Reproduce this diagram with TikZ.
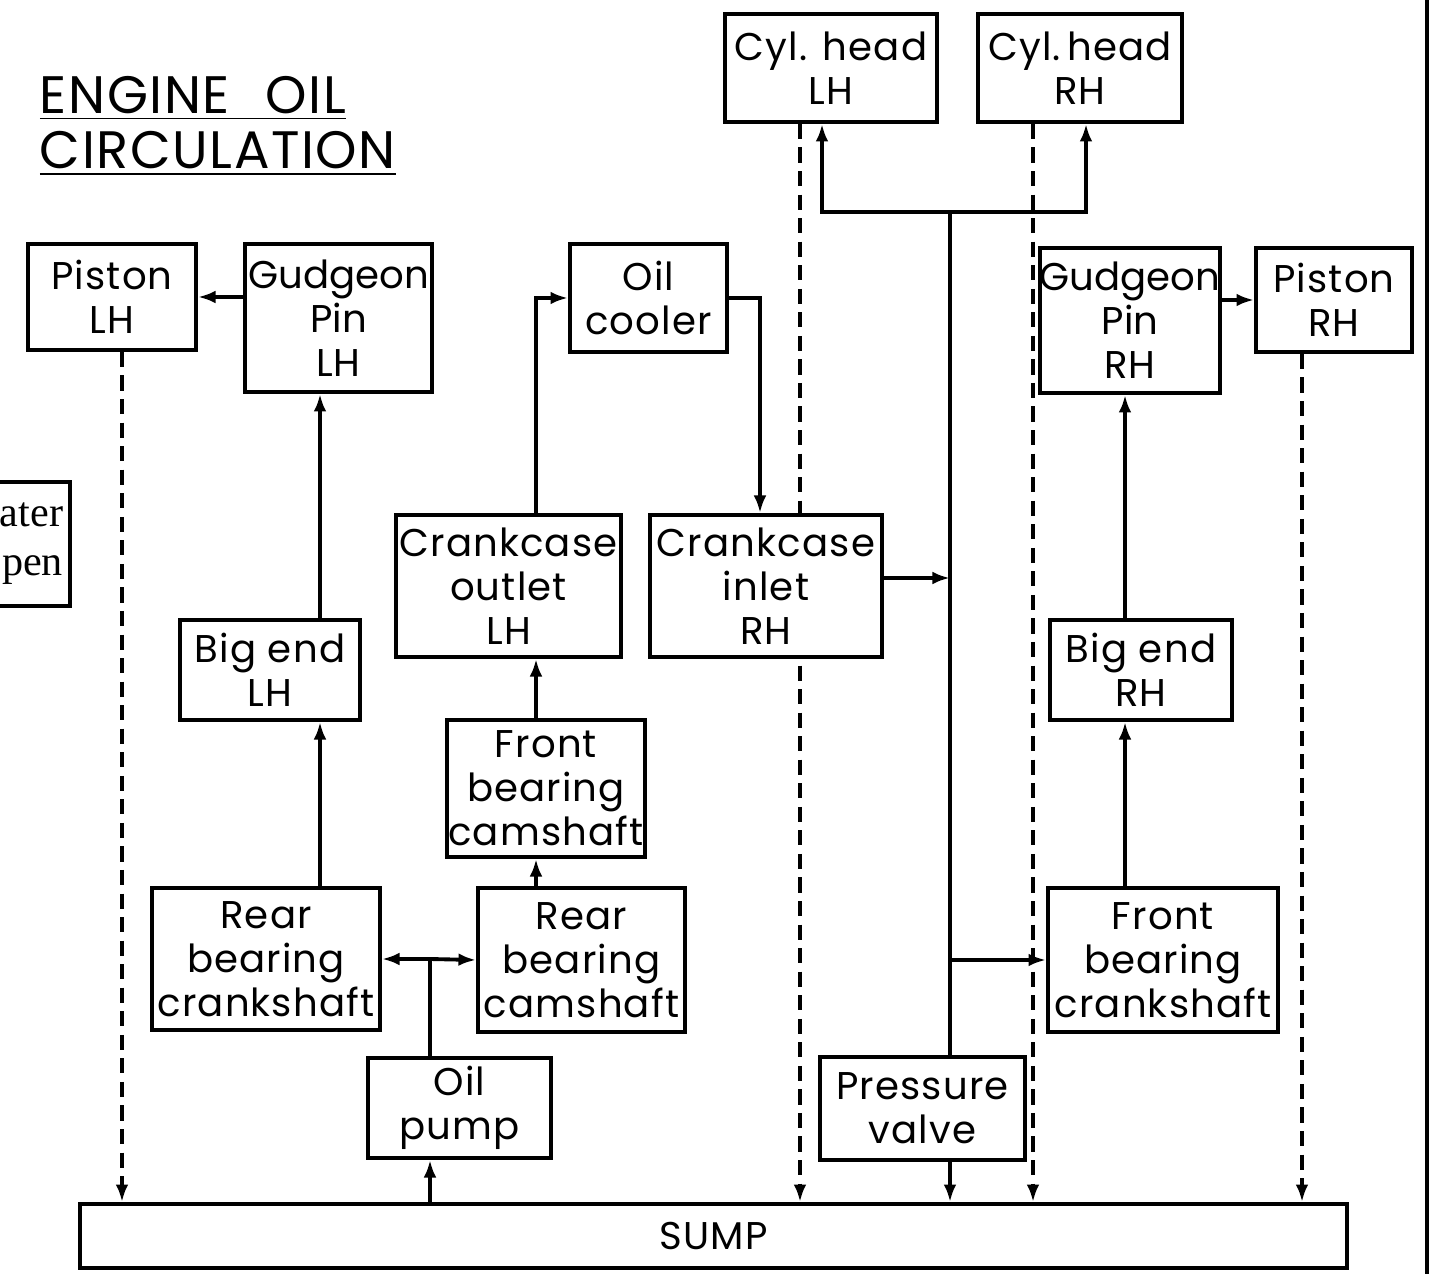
\documentclass[tikz,border=0pt]{standalone}
\usepackage{fontspec}
\setmainfont{Poppins}
\newfontfamily\keyfont{Liberation Serif}
\usetikzlibrary{arrows.meta,backgrounds}
\tikzset{
  blk/.style={draw,fill=white,align=center,inner sep=0pt,font=\fontsize{11}{12.5}\selectfont\addfontfeatures{LetterSpace=3}},
  arr/.style={line width=1.1pt,-{Latex[length=5pt,width=3.6pt]}},
  ret/.style={arr,dash pattern=on 4.3pt off 2.4pt},
}
\begin{document}
\begin{tikzpicture}[line width=1.1pt]
\useasboundingbox(0,0)rectangle(14.41,-12.74);
\node[anchor=north west,align=left,inner sep=0pt,font=\fontsize{15}{15.8}\selectfont\addfontfeatures{LetterSpace=3}](title)at(0.38,-0.74){\underline{ENGINE\hspace{0.2cm} OIL}\\\underline{CIRCULATION}};
\node[draw,fill=white,anchor=east,align=right,text width=1.1cm,minimum height=1.24cm,inner xsep=0.7mm,font=\keyfont\fontsize{12}{14}\selectfont](key)at(0.72,-5.44){ater\\pen};
\draw(14.27,0)--(14.27,-12.74);

\node[blk,minimum width=1.68cm,minimum height=1.06cm](pistL)at(1.12,-2.97){Piston\\LH};
\node[blk,minimum width=1.87cm,minimum height=1.48cm,font=\fontsize{11}{12.5}\selectfont](gudL)at(3.385,-3.18){Gudgeon\\Pin\\LH};
\node[blk,minimum width=1.57cm,minimum height=1.08cm](cool)at(6.485,-2.98){Oil\\cooler};
\node[blk,minimum width=2.12cm,minimum height=1.08cm](cylL)at(8.31,-0.68){Cyl. head\\LH};
\node[blk,minimum width=2.04cm,minimum height=1.08cm](cylR)at(10.8,-0.68){Cyl.\,head\\RH};
\node[blk,minimum width=1.80cm,minimum height=1.45cm,font=\fontsize{11}{12.5}\selectfont](gudR)at(11.30,-3.205){Gudgeon\\Pin\\RH};
\node[blk,minimum width=1.56cm,minimum height=1.04cm](pistR)at(13.34,-3.00){Piston\\RH};
\node[blk,minimum width=1.80cm,minimum height=1.00cm](bigL)at(2.70,-6.70){Big end\\LH};
\node[blk,minimum width=2.25cm,minimum height=1.42cm](outL)at(5.085,-5.86){Crankcase\\outlet\\LH};
\node[blk,minimum width=2.32cm,minimum height=1.42cm](inR)at(7.66,-5.86){Crankcase\\inlet\\RH};
\node[blk,minimum width=1.82cm,minimum height=1.00cm](bigR)at(11.41,-6.70){Big end\\RH};
\node[blk,minimum width=1.98cm,minimum height=1.37cm](fbcam)at(5.46,-7.885){Front\\bearing\\camshaft};
\node[blk,minimum width=2.28cm,minimum height=1.42cm](rbcrank)at(2.66,-9.59){Rear\\bearing\\crankshaft};
\node[blk,minimum width=2.07cm,minimum height=1.44cm](rbcam)at(5.815,-9.60){Rear\\bearing\\camshaft};
\node[blk,minimum width=2.30cm,minimum height=1.44cm](fbcrank)at(11.63,-9.60){Front\\bearing\\crankshaft};
\node[blk,minimum width=1.83cm,minimum height=1.00cm](pump)at(4.595,-11.08){Oil\\pump};
\node[blk,minimum width=2.05cm,minimum height=1.03cm](pv)at(9.225,-11.085){Pressure\\valve};
\node[blk,minimum width=12.67cm,minimum height=0.64cm](sump)at(7.135,-12.36){SUMP};

\coordinate(cL)at(3.2,0);\coordinate(cP)at(4.3,0);\coordinate(cC)at(5.36,0);
\coordinate(cI)at(7.6,0);\coordinate(cM)at(9.5,0);\coordinate(cR)at(11.25,0);
\coordinate(jT)at(9.5,-2.12);\coordinate(jI)at([yshift=0.8mm]inR.east);

\draw[arr](gudL.west|-pistL.east)--(pistL.east);
\draw[arr](cL|-bigL.north)--(cL|-gudL.south);
\draw[arr](cL|-rbcrank.north)--(cL|-bigL.south);
\draw(cP|-pump.north)--(cP|-rbcrank.east)coordinate(jP);
\draw[arr](jP)--(rbcrank.east);
\draw[arr](jP)--(rbcam.west);
\draw[arr](cP|-sump.north)--(cP|-pump.south);
\draw[arr](cC|-rbcam.north)--(cC|-fbcam.south);
\draw[arr](cC|-fbcam.north)--(cC|-outL.south);
\draw[arr](cC|-outL.north)|-(cool.west);
\draw[arr](cool.east)-|(cI|-inR.north);
\draw[arr](jI)--(cM|-jI);
\draw(cM|-pv.north)--(jT);
\draw[arr](jT)-|([xshift=-0.9mm]cylL.south);
\draw[arr](jT)-|([xshift=0.6mm]cylR.south);
\draw[arr](cM|-fbcrank.west)--(fbcrank.west);
\draw[arr](cM|-pv.south)--(cM|-sump.north);
\draw[arr](cR|-fbcrank.north)--(cR|-bigR.south);
\draw[arr](cR|-bigR.north)--(cR|-gudR.south);
\draw[arr](gudR.east|-pistR.west)--(pistR.west);

\begin{scope}[on background layer]
\draw[ret]([xshift=1mm]pistL.south)--([xshift=1mm]pistL.south|-sump.north);
\draw[ret]([xshift=-3.1mm]cylL.south)--([xshift=-3.1mm]cylL.south|-sump.north);
\draw[ret]([xshift=-4.7mm]cylR.south)--([xshift=-4.7mm]cylR.south|-sump.north);
\draw[ret]([xshift=-3.2mm]pistR.south)--([xshift=-3.2mm]pistR.south|-sump.north);
\end{scope}
\end{tikzpicture}
\end{document}
